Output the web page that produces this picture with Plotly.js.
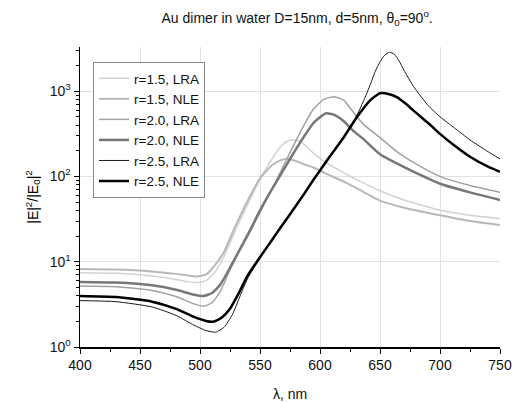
<!DOCTYPE html>
<html>
<head>
<meta charset="utf-8">
<script src="https://cdn.plot.ly/plotly-3.0.1.min.js"></script>
<style>html,body{margin:0;padding:0;background:#fff;}#chart{width:515px;height:403px;}</style>
</head>
<body>
<div id="chart"></div>
<script>
// Wavelength grids (nm) and |E|^2/|E0|^2 values
const lam15nle = [400,430,460,480,490,497,505,511,520,530,540,550,560,566,571,578,586,594,605,622,636,650,670,700,725,750];
const val15nle = [8.2,8.1,7.7,7.2,6.9,6.7,7.1,8.6,13,27,53,95,135,152,160,155,140,128,108,84,66,52,43,35,30,27];

const lam15lra = [400,430,460,480,490,498,505,512,520,530,540,550,560,568,573,578,584,594,605,622,636,650,670,700,725,750];
const val15lra = [7.4,7.3,6.8,6.2,5.8,5.7,6.0,7.4,11.5,24,48,92,160,230,258,267,255,190,145,106,84,68,53,40,35,32];

const lam20nle = [400,430,460,480,495,503,510,517,525,532,540,550,560,565,575,585,595,605,612,620,628,636,650,664,680,700,725,750];
const val20nle = [5.8,5.7,5.3,4.7,4.1,3.96,4.3,5.4,8.5,13,21,40,71,93,160,270,430,550,525,440,340,275,182,142,110,82,65,53];

const lam20lra = [400,430,460,480,495,503,510,517,525,532,540,550,560,565,575,585,594,603,612,620,628,636,650,664,680,700,725,750];
const val20lra = [5.2,5.1,4.6,3.9,3.2,3.0,3.3,4.5,8.0,12.5,20,38,72,98,190,360,600,800,860,780,560,410,285,195,140,100,78,65];

const lam25nle = [400,430,460,480,495,505,511,518,525,532,540,550,560,567,575,586,594,600,608,620,631,642,650,657,664,671,678,692,700,712,725,740,750];
const val25nle = [3.96,3.85,3.4,2.8,2.25,2.02,1.98,2.2,2.8,4.2,7.0,11.3,18,25,36,60,89,117,170,290,500,785,942,925,850,720,590,400,315,230,170,130,113];

const lam25lra = [400,430,460,480,495,505,513,520,527,535,540,550,560,567,575,586,594,600,608,620,631,636,642,646,650,654,658,662,666,670,678,690,700,712,725,740,750];
const val25lra = [3.5,3.4,2.95,2.35,1.8,1.56,1.49,1.7,2.4,4.5,6.5,11,18,25,36,60,89,117,170,300,530,750,1200,1700,2200,2650,2850,2700,2250,1750,1130,680,500,370,268,195,160];

const seriesNames = ['r=1.5, LRA','r=1.5, NLE','r=2.0, LRA','r=2.0, NLE','r=2.5, LRA','r=2.5, NLE'];
const xTickVals = [400,450,500,550,600,650,700,750];
const yTickVals = [1,10,100,1000];
const yTickText = ['10<sup>0</sup>','10<sup>1</sup>','10<sup>2</sup>','10<sup>3</sup>'];

const xs = [lam15lra, lam15nle, lam20lra, lam20nle, lam25lra, lam25nle];
const ys = [val15lra, val15nle, val20lra, val20nle, val25lra, val25nle];
const colors = ['#d2d2d2','#b8b8b8','#a2a2a2','#777777','#1a1a1a','#000000'];
const widths = [1.5,2,1.5,2.5,1,2.5];

const traces = seriesNames.map((n,i)=>({
  x: xs[i], y: ys[i], name: n, type: 'scatter', mode: 'lines',
  line: {color: colors[i], width: widths[i], shape: 'spline', smoothing: 0.5}
}));

const layout = {
  width: 515, height: 403,
  margin: {l: 80, r: 15, t: 47, b: 56},
  paper_bgcolor: '#fff', plot_bgcolor: '#fff',
  font: {family: 'Liberation Sans, Arial, sans-serif', size: 14, color: '#111'},
  title: {text: 'Au dimer in water D=15nm, d=5nm, θ<sub>0</sub>=90<sup>o</sup>.', font: {size: 14}, x: 0.577, xanchor: 'center', y: 0.955, yanchor: 'middle'},
  showlegend: true,
  legend: {x: 0.031, y: 0.95, xanchor: 'left', yanchor: 'top', bgcolor: '#fff', bordercolor: '#888', borderwidth: 1, font: {size: 13.5}, tracegroupgap: 0},
  xaxis: {
    range: [400, 750], tickvals: xTickVals, ticks: 'outside', ticklen: 5, tickwidth: 1, tickcolor: '#000',
    showline: true, linecolor: '#000', linewidth: 1.5, showgrid: true, gridcolor: '#e2e2e2', gridwidth: 1,
    zeroline: false, tickfont: {size: 14},
    minor: {dtick: 25, ticks: 'outside', ticklen: 3, tickcolor: '#000', showgrid: false},
    title: {text: 'λ, nm', font: {size: 14}, standoff: 17}
  },
  yaxis: {
    type: 'log', range: [0, 3.517], tickvals: yTickVals, ticktext: yTickText,
    ticks: 'outside', ticklen: 5, tickwidth: 1, tickcolor: '#000',
    showline: true, linecolor: '#000', linewidth: 1.5, showgrid: true, gridcolor: '#e2e2e2', gridwidth: 1,
    zeroline: false, tickfont: {size: 14},
    minor: {dtick: 'D1', ticks: 'outside', ticklen: 3, tickcolor: '#000', showgrid: false},
    title: {text: '|E|<sup>2</sup>/|E<sub>0</sub>|<sup>2</sup>', font: {size: 14, color: '#000'}, standoff: 8}
  }
};

Plotly.newPlot('chart', traces, layout, {displayModeBar: false, staticPlot: true});
</script>
</body>
</html>
